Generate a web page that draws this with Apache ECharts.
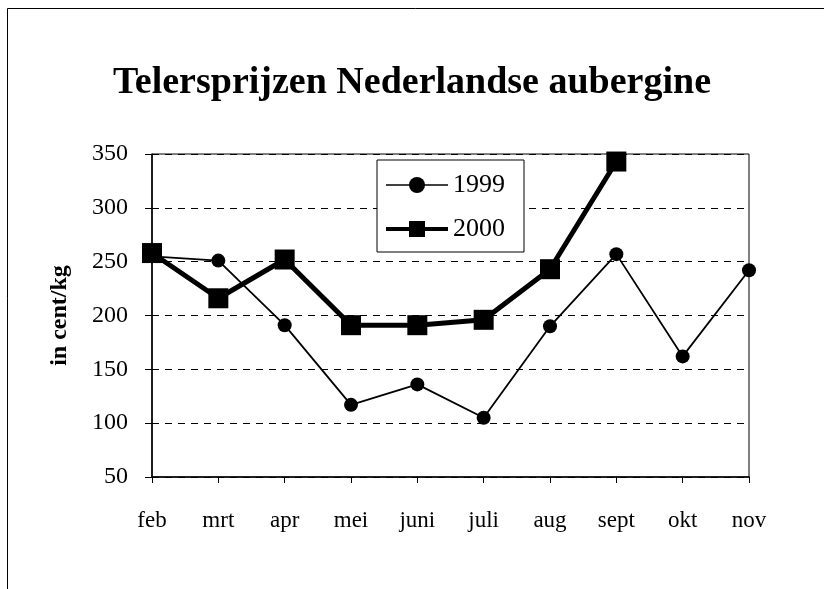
<!DOCTYPE html>
<html lang="nl">
<head>
    <meta charset="utf-8" />
    <title>Telersprijzen Nederlandse aubergine</title>
    <script src="https://cdn.jsdelivr.net/npm/echarts@6/dist/echarts.min.js"></script>
    <style>
        html, body { margin: 0; padding: 0; background: #fff; }
        #main { width: 824px; height: 589px; }
    </style>
</head>
<body>
<div id="main"></div>
<script>
    // maanden
    var maanden = ['feb', 'mrt', 'apr', 'mei', 'juni', 'juli', 'aug', 'sept', 'okt', 'nov'];
    // prijzen in cent/kg
    var prijs1999 = [255, 251, 191, 117, 136, 105, 190, 257, 162, 242];
    var prijs2000 = [258, 216, 252, 191, 191, 196, 243, 343, null, null];
    var yTicks = [50, 100, 150, 200, 250, 300, 350];

    var font = '"Liberation Serif", "Times New Roman", serif';

    var myChart = echarts.init(document.getElementById('main'));

    var option = {
        backgroundColor: '#fff',
        animation: false,
        title: {
            text: 'Telersprijzen Nederlandse aubergine',
            left: 'center',
            top: 59,
            textStyle: { fontFamily: font, fontSize: 38, fontWeight: 'bold', color: '#000' }
        },
        legend: {
            orient: 'vertical',
            left: 377,
            top: 160,
            padding: [12, 19, 10, 7],
            itemWidth: 62,
            itemHeight: 20,
            itemGap: 18,
            itemTextGap: 8,
            backgroundColor: '#fff',
            borderColor: '#000',
            borderWidth: 1,
            borderRadius: 0,
            textStyle: { fontFamily: font, fontSize: 26, color: '#000' },
            data: [
                { name: '1999', lineStyle: { width: 1.5 } },
                { name: '2000', lineStyle: { width: 4 } }
            ]
        },
        grid: {
            left: 152,
            top: 154,
            right: 75,
            bottom: 112,
            show: true,
            borderColor: '#000',
            borderWidth: 1
        },
        xAxis: {
            type: 'category',
            boundaryGap: false,
            data: maanden,
            axisLine: { lineStyle: { color: '#000', width: 1.5 } },
            axisTick: { show: true, length: 6, lineStyle: { color: '#000' } },
            axisLabel: { margin: 32, fontFamily: font, fontSize: 23, color: '#000' },
            splitLine: { show: false }
        },
        yAxis: {
            type: 'value',
            min: yTicks[0],
            max: yTicks[yTicks.length - 1],
            interval: 50,
            name: 'in cent/kg',
            nameLocation: 'middle',
            nameGap: 80,
            nameTextStyle: { fontFamily: font, fontSize: 24, fontWeight: 'bold', color: '#000' },
            axisLine: { show: true, lineStyle: { color: '#000', width: 1.5 } },
            axisTick: { show: true, length: 7, lineStyle: { color: '#000' } },
            axisLabel: { margin: 24, fontFamily: font, fontSize: 24, color: '#000' },
            splitLine: { show: true, lineStyle: { color: '#000', type: [7, 6], width: 1 } }
        },
        series: [
            {
                name: '1999',
                type: 'line',
                data: prijs1999,
                symbol: 'circle',
                symbolSize: 14,
                lineStyle: { color: '#000', width: 1.8 },
                itemStyle: { color: '#000' },
                z: 3
            },
            {
                name: '2000',
                type: 'line',
                data: prijs2000,
                symbol: 'rect',
                symbolSize: 20,
                lineStyle: { color: '#000', width: 5 },
                itemStyle: { color: '#000' },
                z: 4
            }
        ],
        graphic: [
            {
                type: 'polyline',
                shape: { points: [[7.5, 589], [7.5, 8.5], [824, 8.5]] },
                style: { stroke: '#000', lineWidth: 1, fill: null }
            }
        ]
    };

    myChart.setOption(option);
</script>
</body>
</html>
